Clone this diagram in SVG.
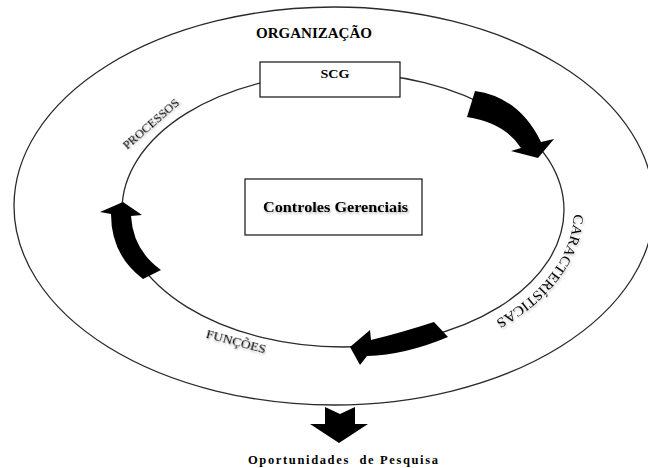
<svg xmlns="http://www.w3.org/2000/svg" width="648" height="468" viewBox="0 0 648 468">
<style>
.ring{fill:none;stroke:#2a2a2a;stroke-width:1.3}
.box{fill:#fff;stroke:#111;stroke-width:1.2}
.lbl{font-family:"Liberation Serif","Times New Roman",serif;fill:#000}
.b{font-weight:bold}
.arr{fill:#000}
</style>
<defs>
<filter id="sh" x="-20%" y="-60%" width="140%" height="220%">
<feDropShadow dx="1" dy="1.5" stdDeviation="0.9" flood-color="#000" flood-opacity="0.3"/>
</filter>
<path id="carPath" d="M 573.9 204.9 A 231 147 0 0 1 475.5 330.4"/>
</defs>
<rect width="648" height="468" fill="#fff"/>
<g id="organizacao">
<ellipse class="ring" cx="334" cy="206" rx="320" ry="199"/>
<text class="lbl b" x="314" y="38" font-size="14" text-anchor="middle" textLength="116" lengthAdjust="spacingAndGlyphs">ORGANIZAÇÃO</text>
</g>
<g id="ciclo">
<ellipse class="ring" cx="343" cy="210" rx="221" ry="137"/>
</g>
<g id="connectors">
<path class="arr" d="M475,91 Q519,97 541,142 L554,139 L538,158 L511,151 L521,148 Q505,123 467,117 Z"/>
<path class="arr" d="M434,322 Q400,333 371,340 L370,330 L350,347 L360,365 L367,356 Q405,355 448,337 Z"/>
<path class="arr" d="M123,202 L142,215 L131,216 Q133,250 161,270 L143,279 Q111,255 111,214 L100,212 Z"/>
<path class="arr" d="M325,407 L340,414 L355,407 L355,424 L368,424 L339,443 L310,424 L325,424 Z"/>
</g>
<g id="scg">
<rect class="box" x="260" y="62" width="140" height="35"/>
<text class="lbl b" x="335" y="78" font-size="13" text-anchor="middle" textLength="29" lengthAdjust="spacingAndGlyphs">SCG</text>
</g>
<g id="controles">
<rect class="box" x="245" y="179" width="177" height="56"/>
<text class="lbl b" x="335.5" y="212" font-size="15" text-anchor="middle" textLength="145" lengthAdjust="spacingAndGlyphs" filter="url(#sh)">Controles Gerenciais</text>
</g>
<g id="processos">
<text class="lbl" transform="translate(153.6,127) rotate(-41)" font-size="12.5" text-anchor="middle" filter="url(#sh)">PROCESSOS</text>
</g>
<g id="caracteristicas">
<text class="lbl" font-size="14" filter="url(#sh)"><textPath href="#carPath" startOffset="9" textLength="138" lengthAdjust="spacingAndGlyphs">CARACTERÍSTICAS</textPath></text>
</g>
<g id="funcoes">
<text class="lbl" transform="translate(235,345.5) rotate(15)" font-size="13.5" text-anchor="middle" filter="url(#sh)">FUNÇÕES</text>
</g>
<g id="oportunidades">
<text class="lbl b" x="343" y="464" font-size="12.5" text-anchor="middle" textLength="190" lengthAdjust="spacing" style="white-space:pre">Oportunidades  de Pesquisa</text>
</g>
</svg>
